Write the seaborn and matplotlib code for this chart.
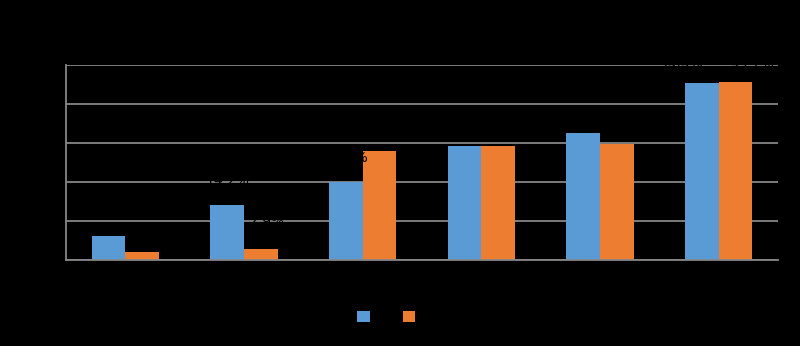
import matplotlib
matplotlib.use("Agg")
import matplotlib.pyplot as plt
import seaborn as sns
import pandas as pd

# ---- data ----
categories = ["Group 1", "Group 2", "Group 3", "Group 4", "Group 5", "Group 6"]
series_names = ["2019", "2020"]
series1 = [6.1, 14.2, 20.0, 29.2, 32.6, 45.3]
series2 = [2.0, 2.9, 28.0, 29.2, 29.8, 45.7]
yticks = [0, 10, 20, 30, 40, 50]
ytick_labels = ["0%", "10%", "20%", "30%", "40%", "50%"]
title = "Chart Title"

df = pd.DataFrame({
    "category": categories * 2,
    "series": [series_names[0]] * len(categories) + [series_names[1]] * len(categories),
    "value": series1 + series2,
})

sns.set_theme(style="white")
plt.rcParams["font.family"] = ["DejaVu Sans"]

BG = "black"
GRID = "#868686"
TXT = "black"

fig = plt.figure(figsize=(8, 3.46), dpi=100, facecolor=BG)
ax = fig.add_axes([0.0825, 0.2486, 0.89, 0.5636])
ax.set_facecolor(BG)

sns.barplot(data=df, x="category", y="value", hue="series",
            palette=["#5B9BD5", "#ED7D31"], width=0.565, gap=0,
            saturation=1, linewidth=0, ax=ax, zorder=2)

ax.set_xlim(-0.5, len(categories) - 0.5)
ax.set_ylim(0, 50)
ax.set_yticks(yticks)
ax.set_yticklabels(ytick_labels, color=TXT, fontsize=10)
ax.yaxis.grid(True, color=GRID, linewidth=1.3, zorder=0)
ax.set_axisbelow(True)
ax.set_xlabel("")
ax.set_ylabel("")

# x ticks: labels at centres, tick marks at category boundaries
ax.set_xticks(range(len(categories)))
ax.set_xticklabels(categories, color=TXT, fontsize=10)
ax.tick_params(axis="x", which="major", length=0, pad=10)
ax.set_xticks([i - 0.5 for i in range(len(categories) + 1)], minor=True)
ax.tick_params(axis="x", which="minor", length=5, width=1.3, color=GRID, direction="out")
ax.tick_params(axis="y", length=5, width=1.3, color=GRID, direction="out")

for side in ["top", "right"]:
    ax.spines[side].set_visible(False)
for side in ["left", "bottom"]:
    ax.spines[side].set_color(GRID)
    ax.spines[side].set_linewidth(1.3)

# data labels (pixel offsets from the top centre of each bar)
label_dx = [[0, 0, 0, -4, 0, -21], [8, 6, 0, 4, 6, 17]]
label_dy = [[24, 24, 24, 24, 16, 20], [20, 27, 26, 26, 26, 18]]
for j, cont in enumerate(ax.containers):
    for i, bar in enumerate(cont):
        x = bar.get_x() + bar.get_width() / 2
        y = bar.get_height()
        ax.annotate(f"{y:.1f}%", (x, y), xytext=(label_dx[j][i], label_dy[j][i]),
                    textcoords="offset pixels", ha="center", va="center",
                    color=TXT, fontsize=10, zorder=5)

# legend at bottom
leg = ax.get_legend()
if leg is not None:
    leg.remove()
handles, labels = ax.get_legend_handles_labels()
fig.legend(handles, labels, loc="center", bbox_to_anchor=(0.502, 1 - 316.5 / 346),
           ncol=2, frameon=False, fontsize=8, handlelength=1.15, handleheight=1.15,
           handletextpad=0.2, columnspacing=0.2, labelcolor=TXT)

fig.text(0.5, 0.93, title, ha="center", va="center", color=TXT, fontsize=13)

fig.savefig("out.png", dpi=100, facecolor=BG)
